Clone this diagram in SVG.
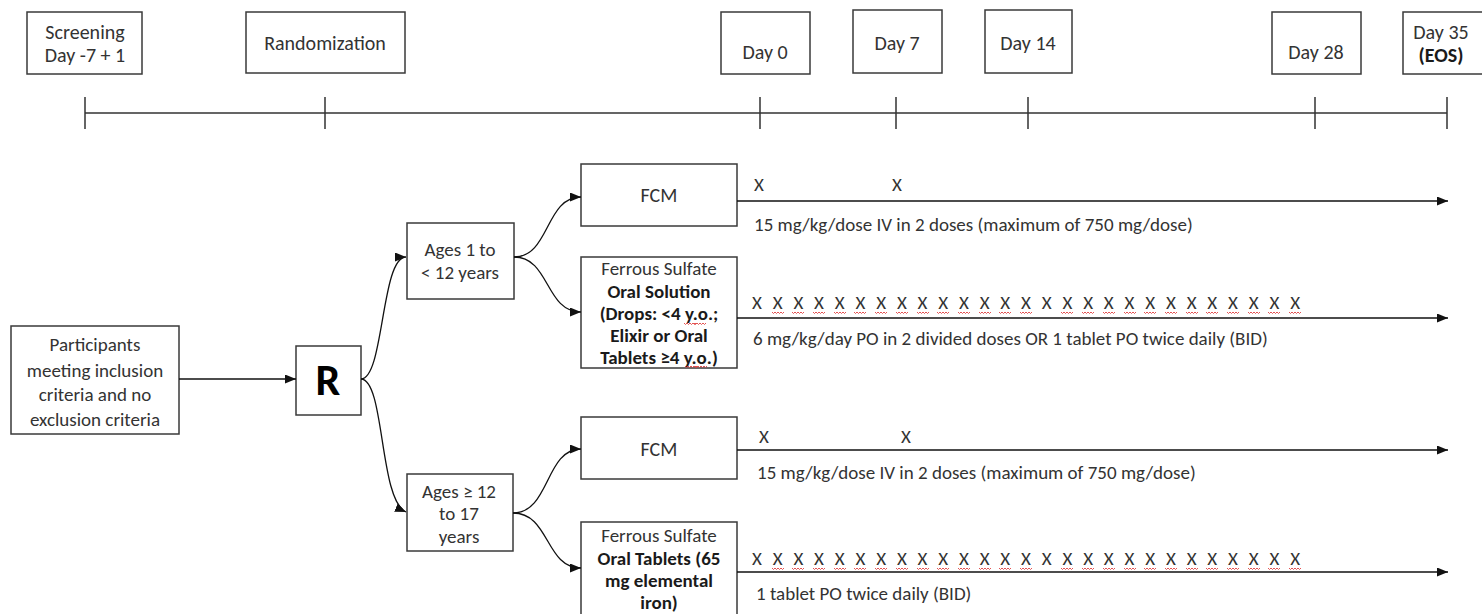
<svg xmlns="http://www.w3.org/2000/svg" xmlns:xlink="http://www.w3.org/1999/xlink" width="1482" height="614" viewBox="0 0 1482 614">
<style>
.box{fill:#fff;stroke:#3a3a3a;stroke-width:1.5}
.t{font-family:Carlito,Lato,"Liberation Sans",sans-serif;font-size:19px;fill:#333;text-anchor:middle}
.s{text-anchor:start}
.big{font-size:20px}
.b{font-weight:bold;fill:#1a1a1a}
.ln{stroke:#333;stroke-width:1.5;fill:none}
.arr{stroke:#111;stroke-width:1.3;fill:none;marker-end:url(#ah)}
.sq{stroke:#e04040;stroke-width:0.9;fill:none}
</style>
<defs>
<marker id="ah" markerUnits="userSpaceOnUse" markerWidth="11" markerHeight="9" refX="11" refY="4.5" orient="auto"><path d="M0,0 L11,4.5 L0,9 z" fill="#111"/></marker>
<path id="w" class="sq" d="M0,0 l1.5,1.5 l1.5,-1.5 l1.5,1.5 l1.5,-1.5 l1.5,1.5 l1.5,-1.5 l1.5,1.5 l1.5,-1.5"/>
</defs>

<g id="timeline">
<path class="ln" d="M85,113 H1447 M85,97 V129 M325,97 V129 M760,97 V129 M896,97 V129 M1028,97 V129 M1315,97 V129 M1447,97 V129"/>
</g>

<g id="screening"><rect class="box" x="27" y="12" width="115" height="62"/><text class="t big" x="85" y="39">Screening</text><text class="t big" x="85" y="62">Day -7 + 1</text></g>
<g id="randomization"><rect class="box" x="246" y="12" width="159" height="61"/><text class="t big" x="325" y="50">Randomization</text></g>
<g id="day0"><rect class="box" x="721" y="12" width="89" height="62"/><text class="t big" x="765" y="59">Day 0</text></g>
<g id="day7"><rect class="box" x="853" y="10" width="89" height="63"/><text class="t big" x="897" y="50">Day 7</text></g>
<g id="day14"><rect class="box" x="985" y="10" width="87" height="63"/><text class="t big" x="1028" y="50">Day 14</text></g>
<g id="day28"><rect class="box" x="1272" y="12" width="89" height="62"/><text class="t big" x="1316" y="59">Day 28</text></g>
<g id="day35"><rect class="box" x="1403" y="12" width="90" height="62"/><text class="t big" x="1441" y="39">Day 35</text><text class="t big b" x="1441" y="62">(EOS)</text></g>

<g id="participants"><rect class="box" x="11" y="326" width="168" height="108"/>
<text class="t" x="95" y="351">Participants</text><text class="t" x="95" y="377">meeting inclusion</text><text class="t" x="95" y="401">criteria and no</text><text class="t" x="95" y="426">exclusion criteria</text></g>

<g id="r"><rect class="box" x="296" y="346" width="65" height="69"/><text class="t b" x="328" y="395" style="font-size:44px;fill:#000">R</text></g>

<g id="ages1"><rect class="box" x="407" y="223" width="107" height="76"/><text class="t" x="460" y="256">Ages 1 to</text><text class="t" x="460" y="279">&lt; 12 years</text></g>
<g id="ages2"><rect class="box" x="407" y="474" width="106" height="77"/><text class="t" x="459" y="498">Ages ≥ 12</text><text class="t" x="459" y="520">to 17</text><text class="t" x="459" y="543">years</text></g>

<g id="fcm1"><rect class="box" x="581" y="164" width="156" height="62"/><text class="t big" x="659" y="202">FCM</text></g>
<g id="ferrous1"><rect class="box" x="581" y="257" width="156" height="111"/>
<text class="t" x="659" y="275">Ferrous Sulfate</text><text class="t b" x="659" y="298">Oral Solution</text><text class="t b" x="659" y="320">(Drops: &lt;4 y.o.;</text><text class="t b" x="659" y="342">Elixir or Oral</text><text class="t b" x="659" y="364">Tablets ≥4 y.o.)</text>
<use xlink:href="#w" x="684" y="323"/><use xlink:href="#w" x="694" y="323"/><use xlink:href="#w" x="685" y="366"/><use xlink:href="#w" x="695" y="366"/></g>

<g id="fcm2"><rect class="box" x="581" y="417" width="156" height="62"/><text class="t big" x="659" y="456">FCM</text></g>
<g id="ferrous2"><rect class="box" x="581" y="522" width="156" height="96"/>
<text class="t" x="659" y="542">Ferrous Sulfate</text><text class="t b" x="659" y="565">Oral Tablets (65</text><text class="t b" x="659" y="587">mg elemental</text><text class="t b" x="659" y="609">iron)</text></g>

<g id="connectors">
<path class="arr" d="M179,379 H296"/>
<path class="arr" d="M361,379 C384,379 381,257 406,257"/>
<path class="arr" d="M361,379 C385,380 379,500 406,512"/>
<path class="arr" d="M514,257 C550,257 545,197 581,197"/>
<path class="arr" d="M514,257 C550,257 545,312 581,312"/>
<path class="arr" d="M513,513 C550,513 545,449 581,449"/>
<path class="arr" d="M513,513 C550,513 545,568 581,568"/>
<path class="arr" d="M737,201 H1448"/>
<path class="arr" d="M737,318 H1448"/>
<path class="arr" d="M737,450 H1448"/>
<path class="arr" d="M737,572 H1448"/>
</g>

<g id="schedule1">
<text class="t s" x="754" y="191">X</text><text class="t s" x="892" y="191">X</text>
<text class="t s" x="754" y="231">15 mg/kg/dose IV in 2 doses (maximum of 750 mg/dose)</text>
<text class="t s" x="752" y="309" textLength="548" lengthAdjust="spacing">X X X X X X X X X X X X X X X X X X X X X X X X X X X</text>
<text class="t s" x="753" y="345">6 mg/kg/day PO in 2 divided doses OR 1 tablet PO twice daily (BID)</text>
<g id="sq1">
<use xlink:href="#w" x="772" y="312"/><use xlink:href="#w" x="792" y="312"/><use xlink:href="#w" x="813" y="312"/><use xlink:href="#w" x="834" y="312"/><use xlink:href="#w" x="854" y="312"/><use xlink:href="#w" x="875" y="312"/><use xlink:href="#w" x="896" y="312"/><use xlink:href="#w" x="917" y="312"/><use xlink:href="#w" x="937" y="312"/><use xlink:href="#w" x="958" y="312"/><use xlink:href="#w" x="979" y="312"/><use xlink:href="#w" x="999" y="312"/><use xlink:href="#w" x="1020" y="312"/><use xlink:href="#w" x="1061" y="312"/><use xlink:href="#w" x="1082" y="312"/><use xlink:href="#w" x="1103" y="312"/><use xlink:href="#w" x="1124" y="312"/><use xlink:href="#w" x="1144" y="312"/><use xlink:href="#w" x="1165" y="312"/><use xlink:href="#w" x="1186" y="312"/><use xlink:href="#w" x="1206" y="312"/><use xlink:href="#w" x="1227" y="312"/><use xlink:href="#w" x="1248" y="312"/><use xlink:href="#w" x="1268" y="312"/><use xlink:href="#w" x="1289" y="312"/>
</g>
</g>

<g id="schedule2">
<text class="t s" x="759" y="443">X</text><text class="t s" x="901" y="443">X</text>
<text class="t s" x="757" y="479">15 mg/kg/dose IV in 2 doses (maximum of 750 mg/dose)</text>
<text class="t s" x="752" y="565" textLength="548" lengthAdjust="spacing">X X X X X X X X X X X X X X X X X X X X X X X X X X X</text>
<text class="t s" x="756" y="600">1 tablet PO twice daily (BID)</text>
<g id="sq2">
<use xlink:href="#w" x="772" y="568"/><use xlink:href="#w" x="792" y="568"/><use xlink:href="#w" x="813" y="568"/><use xlink:href="#w" x="834" y="568"/><use xlink:href="#w" x="854" y="568"/><use xlink:href="#w" x="875" y="568"/><use xlink:href="#w" x="896" y="568"/><use xlink:href="#w" x="917" y="568"/><use xlink:href="#w" x="937" y="568"/><use xlink:href="#w" x="958" y="568"/><use xlink:href="#w" x="979" y="568"/><use xlink:href="#w" x="999" y="568"/><use xlink:href="#w" x="1020" y="568"/><use xlink:href="#w" x="1061" y="568"/><use xlink:href="#w" x="1082" y="568"/><use xlink:href="#w" x="1103" y="568"/><use xlink:href="#w" x="1124" y="568"/><use xlink:href="#w" x="1144" y="568"/><use xlink:href="#w" x="1165" y="568"/><use xlink:href="#w" x="1186" y="568"/><use xlink:href="#w" x="1206" y="568"/><use xlink:href="#w" x="1227" y="568"/><use xlink:href="#w" x="1248" y="568"/><use xlink:href="#w" x="1268" y="568"/><use xlink:href="#w" x="1289" y="568"/>
</g>
</g>
</svg>
